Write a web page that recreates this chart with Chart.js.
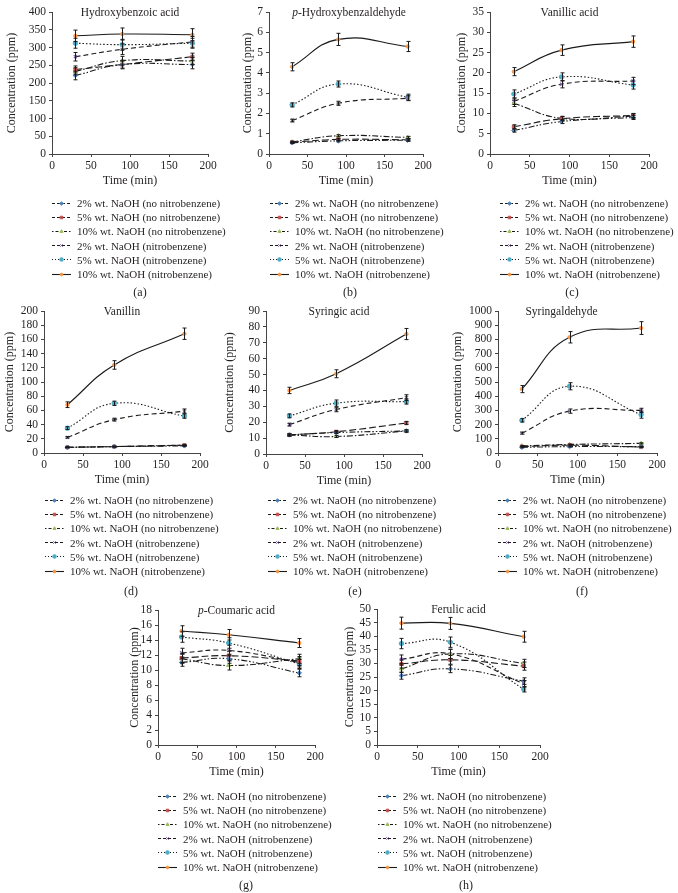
<!DOCTYPE html>
<html>
<head>
<meta charset="utf-8">
<script src="https://cdn.jsdelivr.net/npm/chart.js@4.4.1/dist/chart.umd.min.js"></script>
<style>
body { margin: 0; background: #fff; width: 678px; height: 893px; position: relative; overflow: hidden;
  font-family: "Liberation Serif", "Times New Roman", serif; color: #231f20; }
canvas.plot { position: absolute; }
.legend { position: absolute; font-size: 11px; white-space: nowrap; }
.legend .row { height: 14.2px; display: flex; align-items: center; }
.legend canvas { margin-right: 6px; }
.cap { position: absolute; font-size: 12px; transform: translate(-50%, -50%); }
</style>
</head>
<body>
<script>
// x values (min) and series names
var timeMin = [30, 90, 180];
var seriesNames = [
	'2% wt. NaOH (no nitrobenzene)',
	'5% wt. NaOH (no nitrobenzene)',
	'10% wt. NaOH (no nitrobenzene)',
	'2% wt. NaOH (nitrobenzene)',
	'5% wt. NaOH (nitrobenzene)',
	'10% wt. NaOH (nitrobenzene)'
];
var panelTitles = ['Hydroxybenzoic acid', 'p-Hydroxybenzaldehyde', 'Vanillic acid', 'Vanillin',
	'Syringic acid', 'Syringaldehyde', 'p-Coumaric acid', 'Ferulic acid'];
var captions = ['(a)', '(b)', '(c)', '(d)', '(e)', '(f)', '(g)', '(h)'];
var yMax = [400, 7, 35, 200, 90, 1000, 18, 50];
var yStep = [50, 1, 5, 20, 10, 100, 2, 5];

// values per series, same order as seriesNames
var hydroxybenzoic = [[221, 252, 252], [238, 252, 274], [233, 263, 262], [274, 295, 316], [312, 308, 312], [333, 338, 336]];
var hydroxybenzoicErr = [[12, 12, 12], [10, 10, 10], [10, 12, 10], [12, 15, 15], [14, 15, 14], [16, 17, 17]];
var hydroxybenzaldehyde = [[0.55, 0.65, 0.68], [0.58, 0.72, 0.70], [0.60, 0.90, 0.82], [1.65, 2.50, 2.75], [2.42, 3.45, 2.80], [4.30, 5.65, 5.30]];
var hydroxybenzaldehydeErr = [[0.03, 0.05, 0.05], [0.03, 0.05, 0.05], [0.03, 0.05, 0.05], [0.07, 0.1, 0.12], [0.1, 0.15, 0.15], [0.2, 0.3, 0.25]];
var vanillic = [[5.8, 8.0, 9.0], [6.7, 8.7, 9.5], [12.5, 8.8, 9.3], [13.0, 17.2, 18.0], [14.8, 19.0, 17.0], [20.3, 25.6, 27.7]];
var vanillicErr = [[0.4, 0.5, 0.5], [0.5, 0.5, 0.5], [0.8, 0.5, 0.6], [0.8, 0.9, 0.9], [1, 1, 1], [1, 1.3, 1.4]];
var vanillin = [[8, 9, 10], [8, 9, 11], [8, 9, 11], [22, 47, 59], [35, 70, 52], [68, 124, 168]];
var vanillinErr = [[0.5, 0.5, 0.6], [0.5, 0.5, 0.6], [0.5, 0.5, 0.6], [1, 2, 3], [2, 3, 3], [4, 6, 8]];
var syringic = [[12, 13.5, 14.5], [12, 14, 19.5], [12, 11, 14.5], [18.5, 28, 35.5], [24, 32, 33], [40, 50.5, 75.5]];
var syringicErr = [[0.6, 0.7, 0.7], [0.6, 0.7, 1], [0.6, 0.6, 0.7], [0.9, 1.4, 1.8], [1.2, 2, 1.6], [2, 2.5, 3.5]];
var syringaldehyde = [[40, 45, 45], [45, 55, 42], [50, 60, 68], [140, 295, 300], [230, 470, 270], [450, 815, 880]];
var syringaldehydeErr = [[3, 3, 3], [3, 3, 3], [3, 3, 4], [7, 15, 15], [12, 25, 25], [25, 40, 45]];
var coumaric = [[11.0, 11.5, 9.6], [11.6, 11.9, 11.2], [11.5, 10.6, 11.5], [12.3, 12.6, 11.0], [14.4, 13.6, 10.8], [15.2, 14.7, 13.6]];
var coumaricErr = [[0.5, 0.6, 0.5], [0.6, 0.6, 0.6], [0.6, 0.6, 0.6], [0.6, 0.7, 0.6], [0.7, 0.7, 0.6], [0.7, 0.7, 0.6]];
var ferulic = [[25.5, 28, 23.5], [29.8, 31.3, 29], [28, 33.5, 30], [31.5, 33.5, 22.5], [37.3, 37.8, 20.5], [44.8, 44.7, 39.8]];
var ferulicErr = [[1.3, 1.4, 1.2], [1.5, 1.6, 1.5], [1.4, 1.7, 1.5], [1.6, 1.7, 1.2], [1.9, 1.9, 1], [2.2, 2.2, 2]];

var panelValues = [hydroxybenzoic, hydroxybenzaldehyde, vanillic, vanillin, syringic, syringaldehyde, coumaric, ferulic];
var panelErrors = [hydroxybenzoicErr, hydroxybenzaldehydeErr, vanillicErr, vanillinErr, syringicErr, syringaldehydeErr, coumaricErr, ferulicErr];

// series styles
var markerColors = ['#4F81BD', '#C0504D', '#9BBB59', '#8064A2', '#4BACC6', '#F79646'];
var markerStyles = ['rectRot', 'rect', 'triangle', 'crossRot', 'circle', 'circle'];
var lineDashes = [[6, 2, 1.5, 2, 1.5, 2], [7, 3], [6, 2, 1.5, 2], [5, 3], [1.5, 2], []];
var legendDashes = [[3, 2], [3, 2], [1.5, 2, 3, 2], [3, 2], [1, 2], []];

// page layout of each panel (plot area edges etc.)
var panelBox = [
	{left: 52, top: 12, right: 208, bottom: 154, yTitleX: 12, legX: 52, legY: 203, capX: 140, capY: 292, shift: 0},
	{left: 269, top: 12, right: 423, bottom: 154, yTitleX: 248, legX: 270, legY: 203, capX: 350, capY: 292, shift: 3},
	{left: 490, top: 12, right: 649, bottom: 154, yTitleX: 462, legX: 500, legY: 203, capX: 572, capY: 292, shift: 0},
	{left: 44, top: 311, right: 200, bottom: 453, yTitleX: 10, legX: 45, legY: 500, capX: 131, capY: 591, shift: 0},
	{left: 266, top: 311, right: 422, bottom: 454, yTitleX: 230, legX: 268, legY: 500, capX: 355, capY: 591, shift: -5},
	{left: 498, top: 311, right: 657, bottom: 453, yTitleX: 458, legX: 498, legY: 500, capX: 582, capY: 591, shift: -16},
	{left: 158, top: 610, right: 315, bottom: 745, yTitleX: 135, legX: 158, legY: 796, capX: 246, capY: 885, shift: 0},
	{left: 377, top: 609, right: 540, bottom: 745, yTitleX: 350, legX: 378, legY: 796, capX: 466, capY: 885, shift: 0}
];

var serif = '"Liberation Serif", "Times New Roman", serif';
var ink = '#231f20';

var errorBars = {
	id: 'errorBars',
	afterDatasetsDraw: function(chart) {
		var ctx = chart.ctx, xs = chart.scales.x, ys = chart.scales.y;
		ctx.save();
		ctx.strokeStyle = '#1a1a1a';
		ctx.lineWidth = 1;
		chart.data.datasets.forEach(function(ds) {
			if (!ds.err) return;
			ds.data.forEach(function(p, k) {
				var x = Math.round(xs.getPixelForValue(p.x)) + 0.5;
				var y1 = ys.getPixelForValue(p.y - ds.err[k]);
				var y2 = ys.getPixelForValue(p.y + ds.err[k]);
				ctx.beginPath();
				ctx.moveTo(x, y1); ctx.lineTo(x, y2);
				ctx.moveTo(x - 2, y1); ctx.lineTo(x + 2, y1);
				ctx.moveTo(x - 2, y2); ctx.lineTo(x + 2, y2);
				ctx.stroke();
			});
		});
		ctx.restore();
	}
};

var panelTitle = {
	id: 'panelTitle',
	afterDraw: function(chart, args, opts) {
		var ctx = chart.ctx, a = chart.chartArea;
		var text = opts.text;
		var cx = (a.left + a.right) / 2 + (opts.shift || 0);
		ctx.save();
		ctx.fillStyle = ink;
		ctx.textBaseline = 'middle';
		ctx.textAlign = 'left';
		var pre = '', rest = text;
		if (text.indexOf('p-') === 0) { pre = 'p'; rest = text.slice(1); }
		ctx.font = 'italic 11.5px ' + serif;
		var w1 = pre ? ctx.measureText(pre).width : 0;
		ctx.font = '11.5px ' + serif;
		var w2 = ctx.measureText(rest).width;
		var x0 = cx - (w1 + w2) / 2;
		if (pre) {
			ctx.font = 'italic 11.5px ' + serif;
			ctx.fillText(pre, x0, a.top + 1);
			ctx.font = '11.5px ' + serif;
		}
		ctx.fillText(rest, x0 + w1, a.top + 1);
		ctx.restore();
	}
};

function makePanel(i) {
	var b = panelBox[i];
	var vals = panelValues[i], errs = panelErrors[i];
	var cLeft = b.yTitleX - 7;
	var yw = b.left - cLeft;
	var padTop = 10, padRight = 14, xh = 34;
	var cv = document.createElement('canvas');
	cv.className = 'plot';
	cv.width = yw + (b.right - b.left) + padRight;
	cv.height = padTop + (b.bottom - b.top) + xh;
	cv.style.left = cLeft + 'px';
	cv.style.top = (b.top - padTop) + 'px';
	document.body.appendChild(cv);

	var datasets = vals.map(function(v, s) {
		return {
			label: seriesNames[s],
			data: timeMin.map(function(t, k) { return {x: t, y: v[k]}; }),
			err: errs[s],
			borderColor: '#1a1a1a',
			borderWidth: 1.1,
			borderDash: lineDashes[s],
			tension: 0.45,
			fill: false,
			pointStyle: markerStyles[s],
			pointRadius: s === 5 ? 1.7 : 2.2,
			pointBackgroundColor: markerColors[s],
			pointBorderColor: markerColors[s],
			pointBorderWidth: s === 3 ? 1.2 : 1
		};
	});

	var tickFont = {family: serif, size: 11.5};
	var titleFont = {family: serif, size: 12};

	new Chart(cv, {
		type: 'line',
		data: {datasets: datasets},
		plugins: [errorBars, panelTitle],
		options: {
			responsive: false,
			animation: false,
			layout: {padding: {top: padTop, right: padRight, left: 0, bottom: 0}},
			plugins: {
				legend: {display: false},
				tooltip: {enabled: false},
				panelTitle: {text: panelTitles[i], shift: b.shift}
			},
			scales: {
				x: {
					type: 'linear', min: 0, max: 200,
					ticks: {stepSize: 50, color: ink, font: tickFont, padding: 2, maxRotation: 0, autoSkip: false},
					grid: {drawOnChartArea: false, drawTicks: true, tickLength: 3, color: '#444'},
					border: {color: '#444', width: 1},
					title: {display: true, text: 'Time (min)', color: ink, font: titleFont, padding: 0},
					afterFit: function(s) { s.height = xh; }
				},
				y: {
					type: 'linear', min: 0, max: yMax[i],
					ticks: {stepSize: yStep[i], color: ink, font: tickFont, padding: 3, autoSkip: false,
						callback: function(v) { return String(v); }},
					grid: {drawOnChartArea: false, drawTicks: true, tickLength: 3, color: '#444'},
					border: {color: '#444', width: 1},
					title: {display: true, text: 'Concentration (ppm)', color: ink, font: titleFont, padding: 0},
					afterFit: function(s) { s.width = yw; }
				}
			}
		}
	});

	// legend
	var leg = document.createElement('div');
	leg.className = 'legend';
	leg.style.left = b.legX + 'px';
	leg.style.top = (b.legY - 7) + 'px';
	seriesNames.forEach(function(name, s) {
		var row = document.createElement('div');
		row.className = 'row';
		var sc = document.createElement('canvas');
		sc.width = 19; sc.height = 9;
		var g = sc.getContext('2d');
		g.strokeStyle = '#1a1a1a';
		g.lineWidth = 1.1;
		g.setLineDash(legendDashes[s]);
		g.beginPath(); g.moveTo(0, 4.5); g.lineTo(19, 4.5); g.stroke();
		g.setLineDash([]);
		g.fillStyle = markerColors[s];
		g.strokeStyle = markerColors[s];
		g.lineWidth = 1;
		if (Chart.helpers && Chart.helpers.drawPoint) {
			Chart.helpers.drawPoint(g, {pointStyle: markerStyles[s], radius: s === 5 ? 1.4 : 1.8, rotation: 0, borderWidth: 1}, 9.5, 4.5);
		}
		row.appendChild(sc);
		var span = document.createElement('span');
		span.textContent = name;
		row.appendChild(span);
		leg.appendChild(row);
	});
	document.body.appendChild(leg);

	var cap = document.createElement('div');
	cap.className = 'cap';
	cap.textContent = captions[i];
	cap.style.left = b.capX + 'px';
	cap.style.top = b.capY + 'px';
	document.body.appendChild(cap);
}

for (var i = 0; i < panelBox.length; i++) makePanel(i);
</script>
</body>
</html>
